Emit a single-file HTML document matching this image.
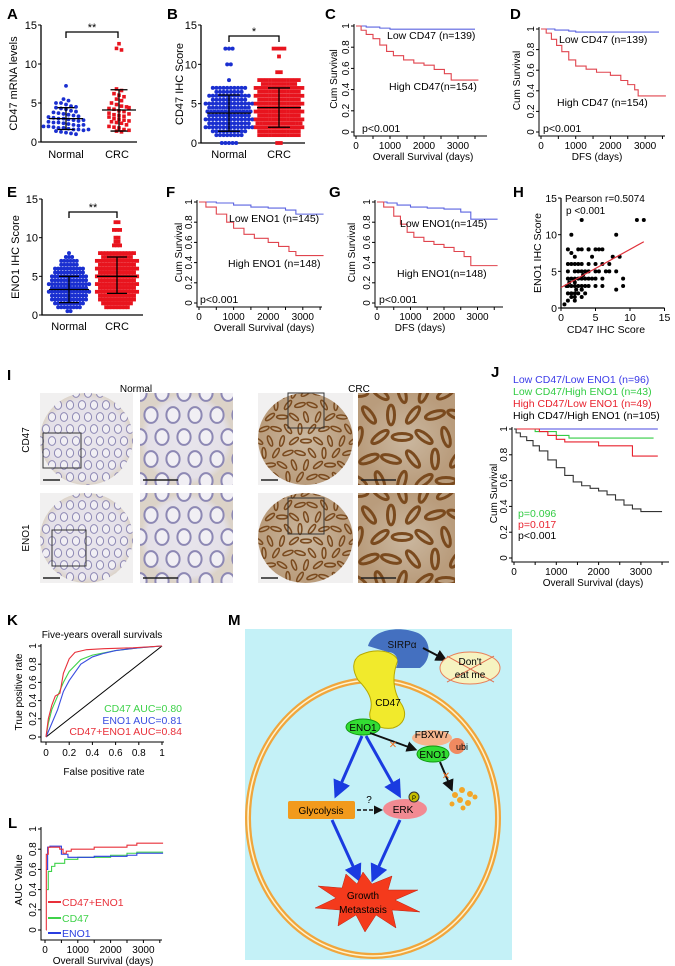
<!DOCTYPE html>
<html><head><meta charset="utf-8">
<style>
html,body{margin:0;padding:0;background:#fff;}
svg{display:block;font-family:"Liberation Sans",Arial,sans-serif;}
</style></head>
<body>
<svg id="fig" width="675" height="966" viewBox="0 0 675 966" xmlns="http://www.w3.org/2000/svg">
<defs>
<radialGradient id="gNorm" cx="50%" cy="50%" r="50%"><stop offset="0" stop-color="#e8e5ec"/><stop offset="0.85" stop-color="#e4e0e8"/><stop offset="1" stop-color="#dcd3c8"/></radialGradient>
<radialGradient id="gCrc" cx="50%" cy="50%" r="50%"><stop offset="0" stop-color="#cbb8a0"/><stop offset="1" stop-color="#b99c7c"/></radialGradient>
<marker id="ab" markerWidth="6" markerHeight="6" refX="4" refY="3" orient="auto"><path d="M0,0 L6,3 L0,6 z" fill="#1a3be0"/></marker>
<marker id="ak" markerWidth="6" markerHeight="6" refX="4" refY="3" orient="auto"><path d="M0,0 L6,3 L0,6 z" fill="#111"/></marker>
</defs>
<g font-weight="bold" font-size="15" fill="#000">
<text x="7" y="19">A</text>
<text x="167" y="19">B</text>
<text x="325" y="19">C</text>
<text x="510" y="19">D</text>
<text x="7" y="197">E</text>
<text x="166" y="197">F</text>
<text x="329" y="197">G</text>
<text x="513" y="197">H</text>
<text x="7" y="380">I</text>
<text x="491" y="377">J</text>
<text x="7" y="625">K</text>
<text x="228" y="625">M</text>
<text x="8" y="828">L</text>
</g>

<g id="panelI">
<text x="136" y="392" font-size="10" text-anchor="middle">Normal</text>
<text x="359" y="392" font-size="10" text-anchor="middle">CRC</text>
<text transform="translate(29,440) rotate(-90)" font-size="10" text-anchor="middle">CD47</text>
<text transform="translate(29,538) rotate(-90)" font-size="10" text-anchor="middle">ENO1</text>
</g>

<g id="panelM">
<rect x="245" y="629" width="267" height="331" fill="#c4f1f7"/>
<ellipse cx="373" cy="818" rx="125" ry="138" fill="none" stroke="#f0a63c" stroke-width="6"/>
<ellipse cx="373" cy="818" rx="125" ry="138" fill="none" stroke="#fff4d0" stroke-width="1.5"/>
<path d="M360,655 C375,648 392,650 398,660 C392,675 392,690 402,705 C408,716 403,725 393,728 C378,730 368,722 370,712 C374,700 368,690 358,680 C352,670 352,660 360,655 z" fill="#f1ea2c" stroke="#b6a800" stroke-width="1"/>
<path d="M368,646 C372,630 398,625 418,633 C432,640 432,660 420,668 L396,668 C400,660 396,652 388,652 z" fill="#4470c0"/>
<text x="402" y="648" font-size="10" text-anchor="middle" fill="#111">SIRPα</text>
<line x1="423" y1="648" x2="444" y2="659" stroke="#111" stroke-width="2" marker-end="url(#ak)"/>
<ellipse cx="470" cy="668" rx="30" ry="16" fill="#f6f3c0" stroke="#e8805a" stroke-width="1"/>
<line x1="447" y1="656" x2="494" y2="682" stroke="#e07050"/>
<line x1="447" y1="682" x2="494" y2="656" stroke="#e07050"/>
<text x="470" y="665" font-size="10" text-anchor="middle">Don't</text>
<text x="470" y="678" font-size="10" text-anchor="middle">eat me</text>
<text x="388" y="706" font-size="10" text-anchor="middle">CD47</text>
<ellipse cx="363" cy="727" rx="17" ry="8" fill="#33dd33" stroke="#119911"/>
<text x="363" y="731" font-size="10" text-anchor="middle">ENO1</text>
<ellipse cx="432" cy="738" rx="20" ry="8" fill="#f6b48c"/>
<circle cx="457" cy="746" r="8" fill="#f08a60"/>
<text x="432" y="738" font-size="10" text-anchor="middle">FBXW7</text>
<text x="462" y="750" font-size="9" text-anchor="middle">ubi</text>
<ellipse cx="433" cy="754" rx="16" ry="8" fill="#33dd33" stroke="#119911"/>
<text x="433" y="758" font-size="10" text-anchor="middle">ENO1</text>
<line x1="370" y1="733" x2="414" y2="749" stroke="#111" stroke-width="1.8" marker-end="url(#ak)"/>
<text x="393" y="748" font-size="10" fill="#f07020" text-anchor="middle">✕</text>
<line x1="440" y1="762" x2="451" y2="788" stroke="#111" stroke-width="2" marker-end="url(#ak)"/>
<text x="446" y="779" font-size="10" fill="#f07020" text-anchor="middle">✕</text>
<g fill="#f2a628">
<circle cx="455" cy="795" r="3"/><circle cx="462" cy="790" r="3"/><circle cx="470" cy="794" r="3"/><circle cx="460" cy="800" r="3"/><circle cx="468" cy="803" r="3"/><circle cx="475" cy="797" r="2.5"/><circle cx="452" cy="804" r="2.5"/><circle cx="463" cy="808" r="2.5"/>
</g>
<line x1="362" y1="736" x2="337" y2="793" stroke="#1a3be0" stroke-width="3" marker-end="url(#ab)"/>
<line x1="366" y1="736" x2="398" y2="793" stroke="#1a3be0" stroke-width="3" marker-end="url(#ab)"/>
<rect x="288" y="801" width="67" height="18" rx="2" fill="#f29a1c"/>
<text x="321" y="814" font-size="10" text-anchor="middle">Glycolysis</text>
<line x1="357" y1="810" x2="380" y2="810" stroke="#111" stroke-width="1.5" stroke-dasharray="4,2" marker-end="url(#ak)"/>
<text x="369" y="803" font-size="10" text-anchor="middle">?</text>
<ellipse cx="405" cy="809" rx="22" ry="10" fill="#f28a92"/>
<text x="403" y="813" font-size="10" text-anchor="middle">ERK</text>
<circle cx="414" cy="797" r="5" fill="#c8c000" stroke="#333"/>
<text x="414" y="800" font-size="6" text-anchor="middle">P</text>
<line x1="332" y1="820" x2="358" y2="877" stroke="#1a3be0" stroke-width="3" marker-end="url(#ab)"/>
<line x1="400" y1="820" x2="374" y2="877" stroke="#1a3be0" stroke-width="3" marker-end="url(#ab)"/>
<polygon points="363,872 372,884 392,876 388,890 418,890 395,900 420,912 392,910 396,928 376,915 365,932 356,915 338,926 340,910 315,908 336,898 318,886 342,888 346,874 357,884" fill="#f43a1c" stroke="#c02010" stroke-width="0.5"/>
<text x="363" y="899" font-size="10" text-anchor="middle">Growth</text>
<text x="363" y="913" font-size="10" text-anchor="middle">Metastasis</text>
</g>

<g id="charts"></g>
</svg>

<script>
// ---------- DATA ----------
const aNormal = [7.2,5.5,5.3,5.0,5.0,4.8,4.6,4.5,4.4,4.3,4.2,4.0,3.9,3.8,3.7,3.6,3.5,3.4,3.3,3.2,3.1,3.0,3.0,2.9,2.8,2.7,2.6,2.5,2.5,2.4,2.3,2.2,2.1,2.0,2.0,1.9,1.8,1.8,1.7,1.6,1.6,1.5,1.4,1.3,1.2,1.1,1.0,1.6,2.2,2.8];
const aCrc = [12.6,12.0,11.8,6.8,6.6,6.2,6.0,5.8,5.5,5.3,5.0,4.8,4.6,4.5,4.3,4.2,4.0,3.9,3.7,3.5,3.4,3.3,3.2,3.0,2.9,2.8,2.6,2.5,2.4,2.2,2.0,1.9,1.8,1.6,1.5,1.4,1.3,2.7,3.6,4.4];
const aStats = {normal:[3.0,1.6,4.4], crc:[4.1,1.4,6.7]};
const bNormalLevels = [0,1,1.5,2,2.5,3,3.5,4,4.5,5,5.5,6,6.5,7,8,10,12];
const bNormalCounts = [5,8,10,14,12,14,12,13,12,14,10,12,8,10,1,2,3];
const bCrcLevels = [0,1,1.5,2,2.5,3,3.5,4,4.5,5,5.5,6,6.5,7,7.5,8,9,11,12];
const bCrcCounts = [2,12,12,14,13,14,12,14,12,14,12,14,12,14,10,12,2,1,4];
const bStats = {normal:[3.8,1.5,6.1], crc:[4.5,2.0,7.0]};
const eNormalLevels = [0.5,1,1.5,2,2.5,3,3.5,4,4.5,5,5.5,6,6.5,7,7.5,8];
const eNormalCounts = [2,8,10,12,12,14,12,14,12,12,10,10,6,6,3,1];
const eCrcLevels = [1,1.5,2,2.5,3,3.5,4,4.5,5,5.5,6,6.5,7,7.5,8,9,9.5,10,11,12];
const eCrcCounts = [8,10,12,12,14,12,14,12,14,12,14,12,14,10,12,3,2,2,3,2];
const eStats = {normal:[3.3,1.6,5.0], crc:[5.0,2.8,7.5]};
const cLowT = [0,300,700,1000,3500];   const cLowS = [1,0.99,0.98,0.97,0.97];
const cHighT = [0,150,300,500,700,900,1100,1400,1700,2000,2300,2600,2800,3600]; const cHighS = [1,0.96,0.92,0.88,0.82,0.76,0.72,0.68,0.65,0.63,0.59,0.55,0.49,0.49];
const dLowT = [0,400,800,1000,3400];   const dLowS = [1,0.99,0.98,0.97,0.97];
const dHighT = [0,150,300,450,600,800,1000,1300,1600,2000,2300,2500,2700,2800,3600]; const dHighS = [1,0.96,0.9,0.84,0.78,0.7,0.64,0.61,0.58,0.55,0.5,0.46,0.41,0.35,0.35];
const fLowT = [0,500,1000,1500,2000,2500,2800,3600]; const fLowS = [1,0.99,0.97,0.95,0.94,0.92,0.88,0.88];
const fHighT = [0,200,500,800,1000,1300,1600,2000,2300,2600,2800,3600]; const fHighS = [1,0.95,0.88,0.8,0.74,0.68,0.64,0.6,0.56,0.51,0.47,0.47];
const gLowT = [0,300,600,1000,1500,2000,2500,2800,3600]; const gLowS = [1,0.99,0.97,0.95,0.94,0.93,0.9,0.83,0.83];
const gHighT = [0,200,500,700,900,1100,1400,1700,2000,2300,2600,2800,3600]; const gHighS = [1,0.95,0.86,0.78,0.7,0.65,0.61,0.58,0.55,0.51,0.46,0.37,0.37];
const jLowLowT = [0,3400]; const jLowLowS = [1,1];
const jLowHighT = [0,500,1000,1300,3300]; const jLowHighS = [1,0.98,0.95,0.93,0.93];
const jHighLowT = [0,600,800,1000,1200,2000,2800,3400]; const jHighLowS = [1,0.98,0.95,0.92,0.9,0.87,0.79,0.79];
const jHighHighT = [0,50,150,300,450,600,800,1000,1200,1400,1600,1800,2000,2200,2400,2600,2800,3000,3500]; const jHighHighS = [1,0.97,0.94,0.91,0.87,0.83,0.76,0.7,0.64,0.59,0.56,0.54,0.52,0.49,0.45,0.41,0.38,0.36,0.36];
const hCd47 = [0.5,1,1,1,1,1,1,1.5,1.5,1.5,1.5,1.5,1.5,2,2,2,2,2,2,2,2,2.5,2.5,2.5,2.5,2.5,3,3,3,3,3,3,3,3.5,3.5,3.5,3.5,4,4,4,4,4,4.5,4.5,5,5,5,5,5,5.5,5.5,6,6,6,6,7,7,7.5,8,8,8,9,9,11,12,1,2,3,1.5,2.5,3,4,0.8,1.2,2.2,3.2,6.5,8.5];
const hEno1 = [0.5,1,2,3,4,5,8,1.5,2,3,4,6,10,1,2,3,3.5,4,5,6,7,2,3,4,5,8,1.5,2.5,3,4,5,6,8,2,3,4,5,3,4,5,6,8,4,7,3,4,5,6,8,5,8,3,4,6,8,5,6,7,2.5,5,10,3,4,12,12,6,1.5,2.5,7.5,6,12,8,3,3.5,2.5,4.5,5,7];
const hFit = [2.8, 0.52];
const kCd47F = [0,0.02,0.05,0.1,0.15,0.2,0.3,0.4,0.6,0.8,1]; const kCd47T = [0,0.15,0.3,0.45,0.6,0.72,0.85,0.9,0.95,0.98,1];
const kEno1F = [0,0.05,0.1,0.15,0.2,0.3,0.4,0.5,0.6,0.8,1]; const kEno1T = [0,0.15,0.3,0.5,0.62,0.8,0.88,0.92,0.95,0.98,1];
const kBothF = [0,0.02,0.05,0.08,0.12,0.15,0.2,0.25,0.35,0.5,0.75,1]; const kBothT = [0,0.2,0.35,0.45,0.48,0.7,0.86,0.93,0.96,0.97,0.98,1];
const lBothT = [30,40,100,300,450,550,650,800,1500,2500,2800,3600]; const lBothV = [0,0.75,0.82,0.82,0.8,0.76,0.78,0.8,0.82,0.84,0.86,0.86];
const lCd47T = [60,100,200,300,600,1000,2000,2500,2800,3600]; const lCd47V = [0.4,0.58,0.63,0.66,0.7,0.72,0.74,0.76,0.77,0.77];
const lEno1T = [50,80,150,400,500,700,1500,2500,2800,3600]; const lEno1V = [0.6,0.82,0.83,0.83,0.75,0.72,0.73,0.74,0.76,0.76];

// ---------- HELPERS ----------
const NS = 'http://www.w3.org/2000/svg';
const root = document.getElementById('charts');
function mk(tag, attrs, parent){
  const el = document.createElementNS(NS, tag);
  for (const k in attrs) el.setAttribute(k, attrs[k]);
  (parent || root).appendChild(el);
  return el;
}
function txt(x, y, s, size, anchor, parent, fill){
  const t = mk('text', {x:x, y:y, 'font-size':size, 'text-anchor':anchor||'start', fill:fill||'#000'}, parent);
  t.textContent = s;
  return t;
}
function vtxt(x, y, s, size, parent){
  const t = mk('text', {transform:'translate('+x+','+y+') rotate(-90)', 'font-size':size, 'text-anchor':'middle'}, parent);
  t.textContent = s;
  return t;
}

// ---------- DOT PLOTS ----------
function dotPlot(name, ox, yTop, yBot, xEnd, maxV, xs, ylabel, ylx, catY){
  const g = mk('g', {});
  
  
  const sy = v => yBot - v/maxV*(yBot-yTop);
  const ax = mk('path', {d:'M'+ox+','+yTop+' L'+ox+','+yBot+' L'+xEnd+','+yBot, fill:'none', stroke:'#000', 'stroke-width':1.3}, g);
  
  
  [0,5,10,15].forEach(v => {
    mk('line', {x1:ox-3, x2:ox, y1:sy(v), y2:sy(v), stroke:'#000'}, g);
    const t = txt(ox-4, sy(v)+4, String(v), 11, 'end', g);
    
    
  });
  const yl = vtxt(ylx, (yTop+yBot)/2, ylabel, 11, g);
  
  
  const c1 = txt(xs[0], catY, 'Normal', 11, 'middle', g);
  
  
  const c2 = txt(xs[1], catY, 'CRC', 11, 'middle', g);
  
  
  return {g:g, sy:sy};
}
function drawLevels(p, cx, levels, counts, color, square, sp){
  levels.forEach((lv, i) => {
    const n = counts[i];
    for (let k = 0; k < n; k++){
      const x = cx + (k - (n-1)/2)*sp;
      const y = p.sy(lv);
      let d;
      if (square){ d = mk('rect', {x:x-1.9, y:y-1.9, width:3.8, height:3.8, fill:color}, p.g); }
      else { d = mk('circle', {cx:x, cy:y, r:2, fill:color}, p.g); }
      
      
    }
  });
}
function drawValues(p, cx, vals, color, square){
  const bins = {};
  vals.forEach(v => { const b = Math.round(v/0.6); (bins[b] = bins[b] || []).push(v); });
  Object.keys(bins).forEach(b => {
    const arr = bins[b]; const n = arr.length;
    arr.forEach((v, k) => {
      const x = cx + (k - (n-1)/2)*5;
      const y = p.sy(v);
      let d;
      if (square){ d = mk('rect', {x:x-1.8, y:y-1.8, width:3.6, height:3.6, fill:color}, p.g); }
      else { d = mk('circle', {cx:x, cy:y, r:1.9, fill:color}, p.g); }
      
      
    });
  });
}
function errBar(p, cx, st, half){
  const g = mk('g', {stroke:'#000', 'stroke-width':1.3}, p.g);
  
  
  mk('line', {x1:cx-half, x2:cx+half, y1:p.sy(st[0]), y2:p.sy(st[0])}, g);
  mk('line', {x1:cx, x2:cx, y1:p.sy(st[1]), y2:p.sy(st[2])}, g);
  mk('line', {x1:cx-half/2, x2:cx+half/2, y1:p.sy(st[1]), y2:p.sy(st[1])}, g);
  mk('line', {x1:cx-half/2, x2:cx+half/2, y1:p.sy(st[2]), y2:p.sy(st[2])}, g);
}
function bracket(p, x1, x2, y, star){
  const b = mk('path', {d:'M'+x1+','+(y+6)+' L'+x1+','+y+' L'+x2+','+y+' L'+x2+','+(y+6), fill:'none', stroke:'#000', 'stroke-width':1.3}, p.g);
  
  
  const t = txt((x1+x2)/2, y-1, star, 11, 'middle', p.g);
  
  
}
const pA = dotPlot('panel-a-cd47-mrna', 41, 25, 142, 137, 15, [66,117], 'CD47 mRNA levels', 17, 158);
drawValues(pA, 66, aNormal, '#1a2fd0', false);
drawValues(pA, 119, aCrc, '#e8141e', true);
errBar(pA, 66, aStats.normal, 17); errBar(pA, 119, aStats.crc, 17);
bracket(pA, 66, 118, 32, '**');
const pB = dotPlot('panel-b-cd47-ihc', 201, 25, 143, 305, 15, [229,279], 'CD47 IHC Score', 183, 158);
drawLevels(pB, 229, bNormalLevels, bNormalCounts, '#1a2fd0', false, 3.6);
drawLevels(pB, 279, bCrcLevels, bCrcCounts, '#e8141e', true, 3.6);
errBar(pB, 229, bStats.normal, 22); errBar(pB, 279, bStats.crc, 22);
bracket(pB, 229, 279, 36, '*');
const pE = dotPlot('panel-e-eno1-ihc', 42, 199, 315, 143, 15, [69,117], 'ENO1 IHC Score', 19, 330);
drawLevels(pE, 69, eNormalLevels, eNormalCounts, '#1a2fd0', false, 3.1);
drawLevels(pE, 117, eCrcLevels, eCrcCounts, '#e8141e', true, 3.1);
errBar(pE, 69, eStats.normal, 20); errBar(pE, 117, eStats.crc, 20);
bracket(pE, 69, 117, 212, '**');

// ---------- KM PLOTS ----------
function kmAxes(name, ox, y0, y1, pxPerK, xEnd, xlabel, xlx, ylx){
  const g = mk('g', {});
  
  
  const sx = t => ox + t/1000*pxPerK;
  const sy = s => y0 - s*(y0-y1);
  const axY = y0+4;
  const ax = mk('path', {d:'M'+(ox-2)+','+(y1-2)+' L'+(ox-2)+','+axY+' L'+xEnd+','+axY, fill:'none', stroke:'#000', 'stroke-width':1}, g);
  
  
  [0,0.2,0.4,0.6,0.8,1].forEach(v => {
    mk('line', {x1:ox-5, x2:ox-2, y1:sy(v), y2:sy(v), stroke:'#000'}, g);
    const t = vtxt(ox-7, sy(v), String(v), 10, g);
    
    
  });
  for (let t = 0; t <= 3500; t += 500){
    mk('line', {x1:sx(t), x2:sx(t), y1:axY, y2:axY+3, stroke:'#000'}, g);
  }
  [0,1000,2000,3000].forEach(t => {
    const l = txt(sx(t), axY+13, String(t), 10, 'middle', g);
    
    
  });
  const xl = txt(xlx, axY+24, xlabel, 10, 'middle', g);
  
  
  const yl = vtxt(ylx, (y0+y1)/2, 'Cum Survival', 10, g);
  
  
  return {g:g, sx:sx, sy:sy};
}
function kmLine(p, T, S, color, name){
  let d = 'M'+p.sx(T[0])+','+p.sy(S[0]);
  for (let i = 1; i < T.length; i++){
    d += ' L'+p.sx(T[i])+','+p.sy(S[i-1])+' L'+p.sx(T[i])+','+p.sy(S[i]);
  }
  const path = mk('path', {d:d, fill:'none', stroke:color, 'stroke-width':1.1}, p.g);
  
  
}
function note(p, x, y, s, color, name){
  const t = txt(x, y, s, 10.5, 'start', p.g, color);
  
  
}
const BLUE = '#5b63e0', RED = '#e0444e';
const pC = kmAxes('panel-c-cd47-os', 356, 132, 26, 34, 487, 'Overall Survival (days)', 423, 337);
kmLine(pC, cLowT, cLowS, BLUE, 'low-cd47-curve');
kmLine(pC, cHighT, cHighS, RED, 'high-cd47-curve');
note(pC, 387, 39, 'Low CD47 (n=139)', '#000', 'low-cd47-label');
note(pC, 389, 90, 'High CD47(n=154)', '#000', 'high-cd47-label');
note(pC, 362, 132, 'p<0.001', '#000', 'p-value');
const pD = kmAxes('panel-d-cd47-dfs', 541, 132, 29, 34.7, 665, 'DFS (days)', 597, 520);
kmLine(pD, dLowT, dLowS, BLUE, 'low-cd47-curve');
kmLine(pD, dHighT, dHighS, RED, 'high-cd47-curve');
note(pD, 559, 43, 'Low CD47 (n=139)', '#000', 'low-cd47-label');
note(pD, 557, 106, 'High CD47 (n=154)', '#000', 'high-cd47-label');
note(pD, 543, 132, 'p<0.001', '#000', 'p-value');
const pF = kmAxes('panel-f-eno1-os', 199, 303, 202, 34.6, 322, 'Overall Survival (days)', 264, 182);
kmLine(pF, fLowT, fLowS, BLUE, 'low-eno1-curve');
kmLine(pF, fHighT, fHighS, RED, 'high-eno1-curve');
note(pF, 229, 222, 'Low ENO1 (n=145)', '#000', 'low-eno1-label');
note(pF, 228, 267, 'High ENO1 (n=148)', '#000', 'high-eno1-label');
note(pF, 200, 303, 'p<0.001', '#000', 'p-value');
const pG = kmAxes('panel-g-eno1-dfs', 377, 303, 202, 33.5, 503, 'DFS (days)', 420, 355);
kmLine(pG, gLowT, gLowS, BLUE, 'low-eno1-curve');
kmLine(pG, gHighT, gHighS, RED, 'high-eno1-curve');
note(pG, 400, 227, 'Low ENO1(n=145)', '#000', 'low-eno1-label');
note(pG, 397, 277, 'High ENO1(n=148)', '#000', 'high-eno1-label');
note(pG, 379, 303, 'p<0.001', '#000', 'p-value');
const pJ = kmAxes('panel-j-combined-os', 514, 558, 429, 42.3, 669, 'Overall Survival (days)', 593, 497);
kmLine(pJ, jLowLowT, jLowLowS, '#4a4ae0', 'low-cd47-low-eno1-curve');
kmLine(pJ, jLowHighT, jLowHighS, '#33cc44', 'low-cd47-high-eno1-curve');
kmLine(pJ, jHighLowT, jHighLowS, '#e8222e', 'high-cd47-low-eno1-curve');
kmLine(pJ, jHighHighT, jHighHighS, '#333', 'high-cd47-high-eno1-curve');
note(pJ, 513, 383, 'Low CD47/Low ENO1 (n=96)', '#3a3ae8', 'legend-low-low');
note(pJ, 513, 395, 'Low CD47/High ENO1 (n=43)', '#33cc44', 'legend-low-high');
note(pJ, 513, 407, 'High CD47/Low ENO1 (n=49)', '#e8222e', 'legend-high-low');
note(pJ, 513, 419, 'High CD47/High ENO1 (n=105)', '#000', 'legend-high-high');
note(pJ, 518, 517, 'p=0.096', '#33cc44', 'p-value-green');
note(pJ, 518, 528, 'p=0.017', '#e8222e', 'p-value-red');
note(pJ, 518, 539, 'p<0.001', '#000', 'p-value-black');

// ---------- H SCATTER ----------
(function(){
  const g = mk('g', {});
  
  
  const ox = 561, sxu = 6.9, y0 = 308, syu = 7.33;
  const sx = v => ox + v*sxu, sy = v => y0 - v*syu;
  const ax = mk('path', {d:'M'+ox+','+sy(15)+' L'+ox+','+y0+' L'+sx(15)+','+y0, fill:'none', stroke:'#000', 'stroke-width':1.2}, g);
  
  
  [0,5,10,15].forEach(v => {
    mk('line', {x1:ox-3, x2:ox, y1:sy(v), y2:sy(v), stroke:'#000'}, g);
    mk('line', {x1:sx(v), x2:sx(v), y1:y0, y2:y0+3, stroke:'#000'}, g);
    const a = txt(ox-4, sy(v)+4, String(v), 10.5, 'end', g);
    
    
    const b = txt(sx(v), y0+13, String(v), 10.5, 'middle', g);
    
    
  });
  hCd47.forEach((v, i) => {
    const c = mk('circle', {cx:sx(v), cy:sy(hEno1[i]), r:2, fill:'#000'}, g);
    
    
  });
  const fit = mk('line', {x1:sx(0), y1:sy(hFit[0]), x2:sx(12), y2:sy(hFit[0]+hFit[1]*12), stroke:'#e0303a', 'stroke-width':1.2}, g);
  
  
  const t1 = txt(565, 202, 'Pearson r=0.5074', 10, 'start', g);
  
  
  const t2 = txt(566, 214, 'p <0.001', 10, 'start', g);
  
  
  const xl = txt(606, 333, 'CD47 IHC Score', 10.5, 'middle', g);
  
  
  const yl = vtxt(541, 253, 'ENO1 IHC Score', 10.5, g);
  
  
})();

// ---------- K ROC ----------
(function(){
  const g = mk('g', {});
  
  
  const x0 = 46, x1 = 162, y0 = 737, y1 = 646;
  const sx = v => x0 + v*(x1-x0), sy = v => y0 - v*(y0-y1);
  const ax = mk('path', {d:'M'+(x0-5)+','+(y1-2)+' L'+(x0-5)+','+(y0+5)+' L'+(x1+2)+','+(y0+5), fill:'none', stroke:'#000'}, g);
  
  
  [0,0.2,0.4,0.6,0.8,1].forEach(v => {
    mk('line', {x1:x0-8, x2:x0-5, y1:sy(v), y2:sy(v), stroke:'#000'}, g);
    mk('line', {x1:sx(v), x2:sx(v), y1:y0+5, y2:y0+8, stroke:'#000'}, g);
    const a = vtxt(x0-10, sy(v), String(v), 10, g);
    
    
    const b = txt(sx(v), y0+19, String(v), 10, 'middle', g);
    
    
  });
  const diag = mk('line', {x1:sx(0), y1:sy(0), x2:sx(1), y2:sy(1), stroke:'#000'}, g);
  
  
  function curve(F, T, color, name){
    const d = F.map((f, i) => (i ? 'L' : 'M') + sx(f) + ',' + sy(T[i])).join(' ');
    const p = mk('path', {d:d, fill:'none', stroke:color, 'stroke-width':1.1}, g);
    
    
  }
  curve(kCd47F, kCd47T, '#3fd24a', 'cd47-roc-curve');
  curve(kEno1F, kEno1T, '#3a4ee0', 'eno1-roc-curve');
  curve(kBothF, kBothT, '#e8303a', 'combined-roc-curve');
  const tt = txt(102, 638, 'Five-years overall survivals', 10, 'middle', g);
  
  
  const l1 = txt(182, 712, 'CD47 AUC=0.80', 10.5, 'end', g, '#3fd24a');
  
  
  const l2 = txt(182, 724, 'ENO1 AUC=0.81', 10.5, 'end', g, '#3a4ee0');
  
  
  const l3 = txt(182, 735, 'CD47+ENO1 AUC=0.84', 10.5, 'end', g, '#e8303a');
  
  
  const xl = txt(104, 775, 'False positive rate', 10, 'middle', g);
  
  
  const yl = vtxt(22, 692, 'True positive rate', 10, g);
  
  
})();

// ---------- L AUC ----------
(function(){
  const g = mk('g', {});
  
  
  const ox = 45, y0 = 930, y1 = 829, pk = 32.8;
  const sx = t => ox + t/1000*pk, sy = v => y0 - v*(y0-y1);
  const ax = mk('path', {d:'M41,'+(y1-2)+' L41,940 L162,940', fill:'none', stroke:'#000'}, g);
  
  
  [0,0.2,0.4,0.6,0.8,1].forEach(v => {
    mk('line', {x1:38, x2:41, y1:sy(v), y2:sy(v), stroke:'#000'}, g);
    const a = vtxt(36, sy(v), String(v), 10, g);
    
    
  });
  for (let t = 0; t <= 3500; t += 500) mk('line', {x1:sx(t), x2:sx(t), y1:940, y2:943, stroke:'#000'}, g);
  [0,1000,2000,3000].forEach(t => {
    const b = txt(sx(t), 953, String(t), 10, 'middle', g);
    
    
  });
  function stepLine(T, V, color, name){
    let d = 'M'+sx(T[0])+','+sy(V[0]);
    for (let i = 1; i < T.length; i++) d += ' L'+sx(T[i])+','+sy(V[i-1])+' L'+sx(T[i])+','+sy(V[i]);
    const p = mk('path', {d:d, fill:'none', stroke:color, 'stroke-width':1.1}, g);
    
    
  }
  stepLine(lCd47T, lCd47V, '#3fd24a', 'cd47-auc-line');
  stepLine(lEno1T, lEno1V, '#2a3ee0', 'eno1-auc-line');
  stepLine(lBothT, lBothV, '#e8303a', 'combined-auc-line');
  [['CD47+ENO1','#e8303a',902,'legend-combined'],['CD47','#3fd24a',918,'legend-cd47'],['ENO1','#2a3ee0',933,'legend-eno1']].forEach(e => {
    mk('line', {x1:48, x2:61, y1:e[2], y2:e[2], stroke:e[1], 'stroke-width':2}, g);
    const t = txt(62, e[2]+4, e[0], 10.5, 'start', g, e[1]);
    
    
  });
  const xl = txt(103, 964, 'Overall Survival (days)', 10, 'middle', g);
  
  
  const yl = vtxt(22, 880, 'AUC Value', 10.5, g);
  
  
})();

// ---------- I HISTOLOGY (decorative) ----------
(function(){
  const gI = document.getElementById('panelI');
  function tile(x, y, w, h, crc, round, name, zoomBox){
    const g = mk('g', {}, gI);
    
    
    const cid = 'clip' + name;
    const cp = mk('clipPath', {id:cid}, g);
    if (round) mk('ellipse', {cx:x+w/2, cy:y+h/2, rx:w/2, ry:h/2}, cp);
    else mk('rect', {x:x, y:y, width:w, height:h}, cp);
    mk('rect', {x:x, y:y, width:w, height:h, fill: round ? '#f1f0f0' : (crc ? '#d9cbbd' : '#e4e0ea')}, g);
    const inner = mk('g', {'clip-path':'url(#'+cid+')'}, g);
    mk('rect', {x:x, y:y, width:w, height:h, fill: crc ? 'url(#gCrc)' : 'url(#gNorm)'}, inner);
    const step = round ? 12 : 22;
    for (let i = 0; i * step < w + step; i++){
      for (let j = 0; j * step < h + step; j++){
        const cx = x + i*step + (j % 2 ? step/2 : 0), cy = y + j*step;
        if (crc){
          mk('ellipse', {cx:cx, cy:cy, rx:step*0.45, ry:step*0.16, transform:'rotate('+((i*37+j*53)%180)+','+cx+','+cy+')', fill:'none', stroke:'#7a4a1e', 'stroke-width':round?1.5:3}, inner);
        } else {
          mk('ellipse', {cx:cx, cy:cy, rx:step*0.3, ry:step*0.36, fill:'#f1eff4', stroke:'#8d88b4', 'stroke-width':round?1:2}, inner);
        }
      }
    }
    if (zoomBox) mk('rect', {x:zoomBox[0], y:zoomBox[1], width:zoomBox[2], height:zoomBox[3], fill:'none', stroke:'#333', 'stroke-width':1}, g);
    mk('line', {x1:x+3, x2:x+(round?20:38), y1:y+h-5, y2:y+h-5, stroke:'#222', 'stroke-width':1.5}, g);
  }
  tile(40, 393, 93, 92, false, true, 'normal-cd47-core', [43,433,38,35]);
  tile(140, 393, 93, 92, false, false, 'normal-cd47-zoom');
  tile(40, 493, 93, 90, false, true, 'normal-eno1-core', [52,530,34,36]);
  tile(140, 493, 93, 90, false, false, 'normal-eno1-zoom');
  tile(258, 393, 95, 92, true, true, 'crc-cd47-core', [288,393,36,35]);
  tile(358, 393, 97, 92, true, false, 'crc-cd47-zoom');
  tile(258, 493, 95, 90, true, true, 'crc-eno1-core', [288,498,36,36]);
  tile(358, 493, 97, 90, true, false, 'crc-eno1-zoom');
})();
</script>
</body></html>
